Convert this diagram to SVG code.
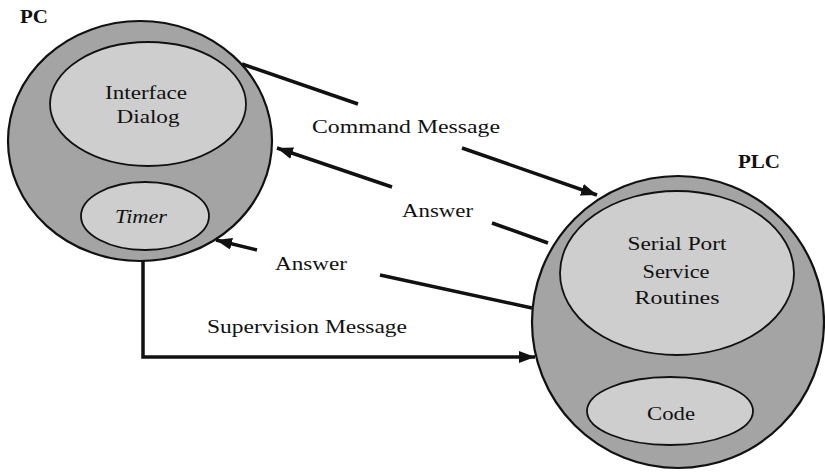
<svg xmlns="http://www.w3.org/2000/svg" width="825" height="472" viewBox="0 0 825 472">
<defs>
<marker id="arr" markerUnits="userSpaceOnUse" markerWidth="18" markerHeight="12" refX="16" refY="6" orient="auto">
<path d="M0,0 L16,6 L0,12 z" fill="#111"/>
</marker>
<style>
.outer{fill:#a4a4a4;stroke:#111;stroke-width:2.2}
.inner{fill:#cecece;stroke:#111;stroke-width:1.8}
.t{font-family:"Liberation Serif","Times New Roman",serif;font-size:19px;fill:#111}
.c{text-anchor:middle}
.b{font-weight:bold}
.conn{fill:none;stroke:#111;stroke-width:3.5}
</style>
</defs>
<rect width="825" height="472" fill="#fff"/>
<g id="pc">
<ellipse class="outer" cx="140" cy="141" rx="132" ry="120"/>
<text class="t b" x="20" y="23" textLength="28" lengthAdjust="spacingAndGlyphs">PC</text>
</g>
<g id="interface-dialog">
<ellipse class="inner" cx="148" cy="104" rx="98" ry="62"/>
<text class="t c" x="146" y="99" textLength="82" lengthAdjust="spacingAndGlyphs">Interface</text>
<text class="t c" x="148" y="123" textLength="63" lengthAdjust="spacingAndGlyphs">Dialog</text>
</g>
<g id="timer">
<ellipse class="inner" cx="145" cy="216" rx="64" ry="34"/>
<text class="t c" x="141" y="223" font-style="italic" textLength="52" lengthAdjust="spacingAndGlyphs">Timer</text>
</g>
<g id="plc">
<circle class="outer" cx="678" cy="322" r="146"/>
<text class="t b" x="738" y="168" textLength="42" lengthAdjust="spacingAndGlyphs">PLC</text>
</g>
<g id="serial-port">
<ellipse class="inner" cx="677" cy="273" rx="117" ry="82"/>
<text class="t c" x="677" y="250" textLength="99" lengthAdjust="spacingAndGlyphs">Serial Port</text>
<text class="t c" x="676" y="278" textLength="67" lengthAdjust="spacingAndGlyphs">Service</text>
<text class="t c" x="677" y="304" textLength="85" lengthAdjust="spacingAndGlyphs">Routines</text>
</g>
<g id="code">
<ellipse class="inner" cx="670" cy="411" rx="83" ry="34"/>
<text class="t c" x="671" y="420" textLength="48" lengthAdjust="spacingAndGlyphs">Code</text>
</g>
<g id="connectors">
<path class="conn" d="M242,64 L358,104 M462,148 L597,195" marker-end="url(#arr)"/>
<path class="conn" d="M548,243 L492,223 M392,187 L277,148" marker-end="url(#arr)"/>
<path class="conn" d="M532,308 L380,275 M257,250 L216,240" marker-end="url(#arr)"/>
<path class="conn" d="M143,261 L143,357 L535,357" marker-end="url(#arr)"/>
<text class="t" x="312" y="133" textLength="188" lengthAdjust="spacingAndGlyphs">Command Message</text>
<text class="t" x="402" y="217" textLength="71" lengthAdjust="spacingAndGlyphs">Answer</text>
<text class="t" x="275" y="270" textLength="72" lengthAdjust="spacingAndGlyphs">Answer</text>
<text class="t" x="207" y="333" textLength="200" lengthAdjust="spacingAndGlyphs">Supervision Message</text>
</g>
</svg>
